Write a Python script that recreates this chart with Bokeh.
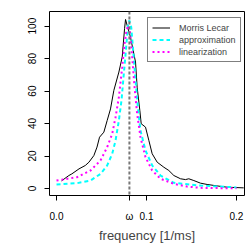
from bokeh.plotting import figure
from bokeh.models import Range1d, FixedTicker, Span, Legend, LegendItem
from bokeh.embed import file_html
from bokeh.resources import INLINE

# Morris Lecar spectrum (black)
ml_f = [0.0056, 0.0137, 0.017, 0.025, 0.032, 0.036, 0.0415, 0.045, 0.0478, 0.0526,
        0.0563, 0.060, 0.0637, 0.0693, 0.073, 0.0756, 0.0767, 0.0785, 0.0822, 0.0859,
        0.0878, 0.0896, 0.0926, 0.0941, 0.0989, 0.1026, 0.1063, 0.1119, 0.1193, 0.1248,
        0.1304, 0.1378, 0.1433, 0.147, 0.1526, 0.160, 0.1674, 0.1785, 0.1896, 0.208]
ml_p = [4.7, 8.0, 9.0, 12.1, 14.2, 16.2, 20.3, 25.5, 31.6, 34.7,
        41.9, 49.0, 60.4, 71.7, 81.0, 98.4, 104.1, 100.4, 93.2, 83.0,
        77.9, 62.4, 48.0, 39.9, 37.8, 29.6, 21.4, 16.2, 13.1, 11.1,
        8.0, 6.0, 5.5, 6.0, 4.9, 3.3, 2.5, 1.6, 0.8, 0.4]

# approximation (cyan dashed)
ap_f = [0.0, 0.023, 0.0378, 0.0489, 0.0563, 0.0619, 0.0656, 0.0693, 0.0722, 0.0748,
        0.0774, 0.0796, 0.081, 0.083, 0.0852, 0.0878, 0.0904, 0.0933, 0.0989, 0.1063,
        0.1156, 0.1304, 0.160, 0.200]
ap_p = [2.5, 3.3, 4.9, 9.0, 14.2, 21.4, 29.6, 41.9, 54.2, 70.7,
        87.1, 101.5, 103.5, 99.4, 85.0, 66.5, 50.0, 35.7, 23.4, 14.2,
        8.0, 3.5, 1.8, 0.7]

# linearization (magenta dotted)
li_f = [0.0, 0.023, 0.0378, 0.0489, 0.0563, 0.0619, 0.0656, 0.0693, 0.073, 0.0756,
        0.0778, 0.0798, 0.0815, 0.0841, 0.0867, 0.0896, 0.0933, 0.0989, 0.1063, 0.1156,
        0.1304, 0.145, 0.160, 0.200]
li_p = [4.9, 7.0, 11.1, 17.3, 25.5, 33.7, 43.9, 56.3, 74.7, 89.2,
        97.4, 100.4, 97.4, 81.0, 62.4, 46.0, 31.6, 19.3, 11.1, 6.0,
        2.9, 1.2, 0.4, 0.1]

omega = 0.081
x_ticks = [0.0, omega, 0.1, 0.2]
x_tick_labels = {0.0: "0.0", omega: "ω", 0.1: "0.1", 0.2: "0.2"}
y_ticks = [0, 20, 40, 60, 80, 100]

FONT = "Liberation Sans"

p = figure(width=245, height=245, output_backend="svg", toolbar_location=None,
           x_range=Range1d(-0.0078, 0.2089), y_range=Range1d(-4.3, 109.0),
           min_border_left=49, min_border_right=1, min_border_top=11, min_border_bottom=50)
p.background_fill_color = "white"
p.border_fill_color = "white"
p.outline_line_color = "black"
p.outline_line_width = 1
p.grid.visible = False

r_ml = p.line(ml_f, ml_p, line_color="black", line_width=1)
r_ap = p.line(ap_f, ap_p, line_color="#00FFFF", line_width=2, line_dash="4 3")
r_li = p.line(li_f, li_p, line_color="#FF00FF", line_width=2, line_dash="2 3")

p.add_layout(Span(location=omega, dimension="height", line_color="#777777",
                  line_width=2, line_dash="3 2"))

xa = p.xaxis[0]
xa.ticker = FixedTicker(ticks=x_ticks)
xa.major_label_overrides = x_tick_labels
xa.axis_line_color = None
xa.minor_tick_line_color = None
xa.major_tick_in = 0
xa.major_tick_out = 5
xa.major_label_standoff = 10
xa.major_label_text_font = FONT
xa.major_label_text_font_size = "10px"
xa.major_label_text_color = "black"
xa.axis_label = "frequency [1/ms]"
xa.axis_label_text_font = FONT
xa.axis_label_text_font_style = "normal"
xa.axis_label_text_font_size = "13px"
xa.axis_label_standoff = 3

ya = p.yaxis[0]
ya.ticker = FixedTicker(ticks=y_ticks)
ya.axis_line_color = None
ya.minor_tick_line_color = None
ya.major_tick_in = 0
ya.major_tick_out = 5
ya.major_label_orientation = "vertical"
ya.major_label_standoff = 8
ya.major_label_text_font = FONT
ya.major_label_text_font_size = "10px"
ya.major_label_text_color = "black"

legend = Legend(items=[LegendItem(label="Morris Lecar", renderers=[r_ml]),
                       LegendItem(label="approximation", renderers=[r_ap]),
                       LegendItem(label="linearization", renderers=[r_li])],
                location=(98, 133))
legend.label_text_font = FONT
legend.label_text_font_size = "9px"
legend.label_height = 11
legend.glyph_height = 11
legend.glyph_width = 18
legend.label_standoff = 9
legend.spacing = 1
legend.padding = 4
legend.margin = 0
legend.border_line_color = "black"
legend.border_line_width = 1
legend.background_fill_alpha = 1.0
p.add_layout(legend)

open("out.html", "w").write(file_html(p, INLINE))
